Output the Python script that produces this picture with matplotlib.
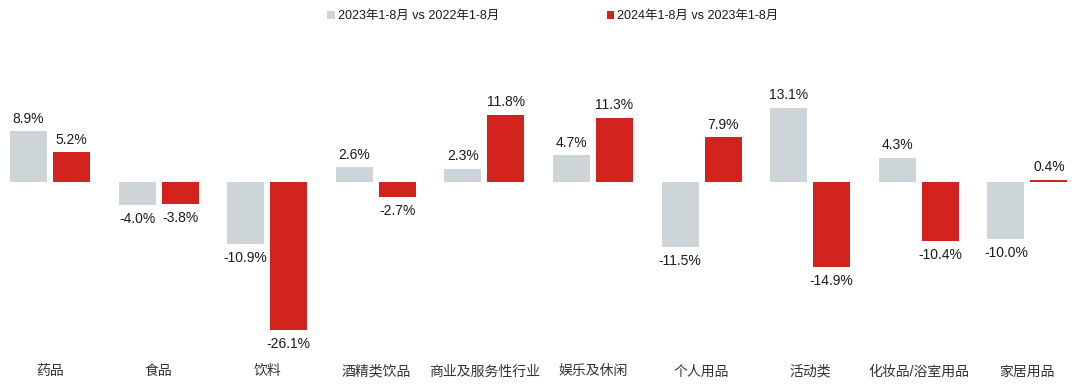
import numpy as np
import matplotlib
matplotlib.use('Agg')
import matplotlib.pyplot as plt
from matplotlib.patches import Patch

plt.rcParams['font.family'] = ['Liberation Sans', 'Noto Sans CJK SC', 'DejaVu Sans']

# -- data -----------------------------------------------------------------
categories = ['药品', '食品', '饮料', '酒精类饮品', '商业及服务性行业',
              '娱乐及休闲', '个人用品', '活动类', '化妆品/浴室用品', '家居用品']
growth_2023 = [8.9, -4.0, -10.9, 2.6, 2.3, 4.7, -11.5, 13.1, 4.3, -10.0]
growth_2024 = [5.2, -3.8, -26.1, -2.7, 11.8, 11.3, 7.9, -14.9, -10.4, 0.4]
series_labels = ['2023年1-8月 vs 2022年1-8月', '2024年1-8月 vs 2023年1-8月']

GREY = '#CED5D9'
RED = '#D2231E'
TEXT = '#1A1A1A'

W, H = 1080, 391
PX = 5.68  # pixels per percentage point
ZERO = 182
fig = plt.figure(figsize=(W / 100, H / 100), dpi=100, facecolor='white')
ax = fig.add_axes([0, 1 - 345 / H, 1, (345 - 60) / H])

x = np.arange(len(categories))
width = 0.34
off = 0.198

bars1 = ax.bar(x - off, growth_2023, width, color=GREY, zorder=3)
bars2 = ax.bar(x + off, growth_2024, width, color=RED, zorder=3)

for bars, vals in ((bars1, growth_2023), (bars2, growth_2024)):
    for b, v in zip(bars, vals):
        cx = b.get_x() + b.get_width() / 2
        if v >= 0:
            ax.annotate(f'{v:.1f}%', (cx, v), xytext=(0, 4), textcoords='offset points',
                        ha='center', va='bottom', fontsize=10, color=TEXT)
        else:
            ax.annotate(f'{v:.1f}%', (cx, v), xytext=(0, -5), textcoords='offset points',
                        ha='center', va='top', fontsize=10, color=TEXT)

spacing = 108.6
ax.set_xlim(-50 / spacing, (W - 50) / spacing)
ax.set_ylim(-(345 - ZERO) / PX, (ZERO - 60) / PX)
ax.set_xticks(x)
ax.set_xticklabels(categories, fontsize=10, color='#333333')
ax.tick_params(axis='x', length=0, pad=14)
ax.set_yticks([])
for sp in ax.spines.values():
    sp.set_visible(False)

handles = [Patch(facecolor=GREY, edgecolor='none'), Patch(facecolor=RED, edgecolor='none')]
fig.legend(handles, series_labels, loc='center', bbox_to_anchor=(553 / W, 1 - 16 / H),
           ncol=2, frameon=False, fontsize=9, handlelength=0.6, handleheight=0.6,
           handletextpad=0.25, columnspacing=8.6, labelcolor=TEXT)

fig.savefig('out.png', dpi=100, facecolor='white')
